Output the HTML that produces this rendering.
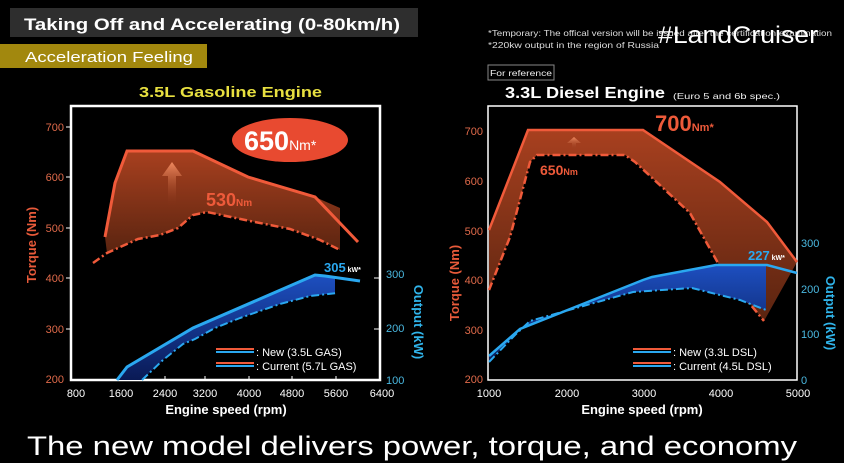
<!DOCTYPE html>
<html><head><meta charset="utf-8"><style>
html,body{margin:0;padding:0;background:#000;width:844px;height:463px;overflow:hidden}
svg{display:block;font-family:"Liberation Sans",sans-serif}
</style></head><body>
<svg width="844" height="463" viewBox="0 0 844 463" xmlns="http://www.w3.org/2000/svg">
<defs>
<linearGradient id="og" x1="0" y1="0" x2="0" y2="1"><stop offset="0" stop-color="#a8401f"/><stop offset="1" stop-color="#5a2410"/></linearGradient>
<linearGradient id="bg" x1="0" y1="0" x2="0" y2="1"><stop offset="0" stop-color="#1d4fc0"/><stop offset="1" stop-color="#0a1a55"/></linearGradient>
<linearGradient id="ar" x1="0" y1="0" x2="0" y2="1"><stop offset="0" stop-color="#f08a60"/><stop offset="1" stop-color="#8a3518" stop-opacity="0"/></linearGradient>
</defs>
<rect width="844" height="463" fill="#000"/>
<!-- header -->
<rect x="10" y="8" width="408" height="29" fill="#2e2e2e"/>
<text x="24" y="30" font-size="17" font-weight="bold" fill="#fff" textLength="376" lengthAdjust="spacingAndGlyphs">Taking Off and Accelerating (0-80km/h)</text>
<rect x="0" y="44" width="207" height="24" fill="#a2880e"/>
<text x="25" y="62" font-size="15" fill="#fff" textLength="168" lengthAdjust="spacingAndGlyphs">Acceleration Feeling</text>
<text x="139" y="97" font-size="15" font-weight="bold" fill="#e8e040" textLength="183" lengthAdjust="spacingAndGlyphs">3.5L Gasoline Engine</text>
<text x="488" y="36" font-size="8.5" fill="#ddd" textLength="344" lengthAdjust="spacingAndGlyphs">*Temporary: The offical version will be issued after the certification examination</text>
<text x="488" y="48" font-size="8.5" fill="#ddd" textLength="171" lengthAdjust="spacingAndGlyphs">*220kw output in the region of Russia</text>
<text x="658" y="43" font-size="24" fill="#fff" textLength="160" lengthAdjust="spacingAndGlyphs">#LandCruiser</text>
<rect x="488" y="65" width="66" height="15" fill="none" stroke="#888" stroke-width="1"/>
<text x="490" y="76" font-size="8.5" fill="#eee" textLength="62" lengthAdjust="spacingAndGlyphs">For reference</text>
<text x="505" y="98" font-size="16" font-weight="bold" fill="#fff" textLength="160" lengthAdjust="spacingAndGlyphs">3.3L Diesel Engine</text>
<text x="673" y="99" font-size="8.5" fill="#eee" textLength="107" lengthAdjust="spacingAndGlyphs">(Euro 5 and 6b spec.)</text>

<!-- LEFT CHART -->
<rect x="71" y="106" width="309" height="274" fill="none" stroke="#fff" stroke-width="2.5"/>
<g font-size="11" fill="#e06a4a" text-anchor="end">
<text x="64" y="131">700</text><text x="64" y="181">600</text><text x="64" y="232">500</text><text x="64" y="282">400</text><text x="64" y="333">300</text><text x="64" y="383">200</text></g>
<g stroke="#fff" stroke-width="1"><line x1="66" y1="127" x2="71" y2="127"/><line x1="66" y1="177" x2="71" y2="177"/><line x1="66" y1="228" x2="71" y2="228"/><line x1="66" y1="278" x2="71" y2="278"/><line x1="66" y1="329" x2="71" y2="329"/>
<line x1="374" y1="278" x2="380" y2="278"/><line x1="374" y1="329" x2="380" y2="329"/>
<line x1="121" y1="376" x2="121" y2="380"/><line x1="165" y1="376" x2="165" y2="380"/><line x1="205" y1="376" x2="205" y2="380"/><line x1="249" y1="376" x2="249" y2="380"/><line x1="292" y1="376" x2="292" y2="380"/><line x1="336" y1="376" x2="336" y2="380"/></g>
<g font-size="11" fill="#fff" text-anchor="middle">
<text x="76" y="397">800</text><text x="121" y="397">1600</text><text x="165" y="397">2400</text><text x="205" y="397">3200</text><text x="249" y="397">4000</text><text x="292" y="397">4800</text><text x="336" y="397">5600</text><text x="382" y="397">6400</text></g>
<text x="226" y="414" font-size="13" font-weight="bold" fill="#fff" text-anchor="middle">Engine speed (rpm)</text>
<g font-size="11" fill="#4ab8e0"><text x="386" y="278">300</text><text x="386" y="332">200</text><text x="386" y="384">100</text></g>
<text transform="translate(36,245) rotate(-90)" font-size="13" font-weight="bold" fill="#e85a3a" text-anchor="middle">Torque (Nm)</text>
<text transform="translate(414,322) rotate(90)" font-size="13" font-weight="bold" fill="#30b4ea" text-anchor="middle">Output (kW)</text>

<polygon points="105,237 115,183 127,151 193,151 248,177 315,197 340,208 340,250 320,240 290,229 250,221 207,212 193,215 178,228 160,235 138,239 107,253" fill="url(#og)"/>
<polyline points="105,237 115,183 127,151 193,151 248,177 315,197 358,242" fill="none" stroke="#f05a3a" stroke-width="3"/>
<polyline points="93,263 107,253 138,239 160,235 178,228 193,215 207,212 250,221 290,229 320,240 340,250" fill="none" stroke="#f05a3a" stroke-width="2.5" stroke-dasharray="8,3,2,3"/>
<polygon points="172,162 162,176 168,176 168,205 176,205 176,176 182,176" fill="url(#ar)"/>
<text x="206" y="206" font-size="18" font-weight="bold" fill="#ee5a3a">530<tspan font-size="10">Nm</tspan></text>
<ellipse cx="290" cy="140" rx="58" ry="22" fill="#e84a30"/>
<text x="244" y="150" font-size="27" font-weight="bold" fill="#fff">650<tspan font-size="14" font-weight="normal">Nm*</tspan></text>

<polygon points="117,380 127,367 193,328 315,275 335,277 335,293 310,296 280,304 240,318 215,328 195,339 183,344 163,360 142,380" fill="url(#bg)"/>
<polyline points="117,380 127,367 193,328 315,275 325,276 360,281" fill="none" stroke="#2aa8f0" stroke-width="3"/>
<polyline points="142,380 163,360 183,344 195,339 215,328 240,318 280,304 310,296 337,293" fill="none" stroke="#2aa8f0" stroke-width="2" stroke-dasharray="8,3,2,3"/>
<text x="324" y="272" font-size="13" font-weight="bold" fill="#2aa8f0">305<tspan font-size="7" fill="#fff"> kW*</tspan></text>
<rect x="216" y="348" width="38" height="2" fill="#f05a3a"/><rect x="216" y="351" width="38" height="2" fill="#2aa8f0"/>
<rect x="216" y="362" width="38" height="2" fill="#f05a3a"/><rect x="216" y="365" width="38" height="2" fill="#2aa8f0"/>
<text x="256" y="356" font-size="11" fill="#fff">: New (3.5L GAS)</text>
<text x="256" y="370" font-size="11" fill="#fff">: Current (5.7L GAS)</text>

<!-- RIGHT CHART -->
<rect x="488" y="106" width="309" height="274" fill="none" stroke="#fff" stroke-width="1.5"/>
<g font-size="11" fill="#e06a4a" text-anchor="end">
<text x="483" y="135">700</text><text x="483" y="185">600</text><text x="483" y="235">500</text><text x="483" y="284">400</text><text x="483" y="334">300</text><text x="483" y="383">200</text></g>
<g font-size="11" fill="#fff" text-anchor="middle">
<text x="489" y="397">1000</text><text x="567" y="397">2000</text><text x="644" y="397">3000</text><text x="721" y="397">4000</text><text x="798" y="397">5000</text></g>
<text x="642" y="414" font-size="13" font-weight="bold" fill="#fff" text-anchor="middle">Engine speed (rpm)</text>
<g font-size="11" fill="#4ab8e0"><text x="801" y="247">300</text><text x="801" y="293">200</text><text x="801" y="338">100</text><text x="801" y="384">0</text></g>
<text transform="translate(459,283) rotate(-90)" font-size="13" font-weight="bold" fill="#e85a3a" text-anchor="middle">Torque (Nm)</text>
<text transform="translate(826,313) rotate(90)" font-size="13" font-weight="bold" fill="#30b4ea" text-anchor="middle">Output (kW)</text>

<polygon points="489,230 528,130 643,130 720,182 767,222 795,260 797,262 764,321 722,270 705,240 690,213 635,162 625,155 537,155 530,162 510,237 489,290" fill="url(#og)"/>
<polyline points="489,230 528,130 643,130 720,182 767,222 797,262" fill="none" stroke="#f05a3a" stroke-width="2.5"/>
<polyline points="489,290 510,237 530,162 537,155 625,155 635,162 690,213 705,240 722,270 764,321" fill="none" stroke="#f05a3a" stroke-width="2.5" stroke-dasharray="8,3,2,3"/>
<polygon points="574,137 567,143 572,143 572,150 576,150 576,143 581,143" fill="url(#ar)"/>
<text x="540" y="175" font-size="14" font-weight="bold" fill="#ee5a3a">650<tspan font-size="9">Nm</tspan></text>
<text x="655" y="131" font-size="22" font-weight="bold" fill="#ee5a3a">700<tspan font-size="11">Nm*</tspan></text>

<polygon points="489,356 520,329 643,280 652,277 716,265 766,265 766,310 740,300 692,288 633,292 530,321 515,335 489,362" fill="url(#bg)"/>
<polyline points="489,356 520,329 643,280 652,277 716,265 767,265 797,273" fill="none" stroke="#2aa8f0" stroke-width="2.5"/>
<polyline points="489,362 515,335 530,321 633,292 692,288 740,300 766,310" fill="none" stroke="#2aa8f0" stroke-width="2" stroke-dasharray="8,3,2,3"/>
<text x="748" y="260" font-size="13" font-weight="bold" fill="#2aa8f0">227<tspan font-size="7" fill="#fff"> kW*</tspan></text>
<rect x="633" y="348" width="38" height="2" fill="#f05a3a"/><rect x="633" y="351" width="38" height="2" fill="#2aa8f0"/>
<rect x="633" y="362" width="38" height="2" fill="#f05a3a"/><rect x="633" y="365" width="38" height="2" fill="#2aa8f0"/>
<text x="673" y="356" font-size="11" fill="#fff">: New (3.3L DSL)</text>
<text x="673" y="370" font-size="11" fill="#fff">: Current (4.5L DSL)</text>

<text x="27" y="455" font-size="27" fill="#fff" textLength="770" lengthAdjust="spacingAndGlyphs">The new model delivers power, torque, and economy</text>
</svg>
</body></html>
